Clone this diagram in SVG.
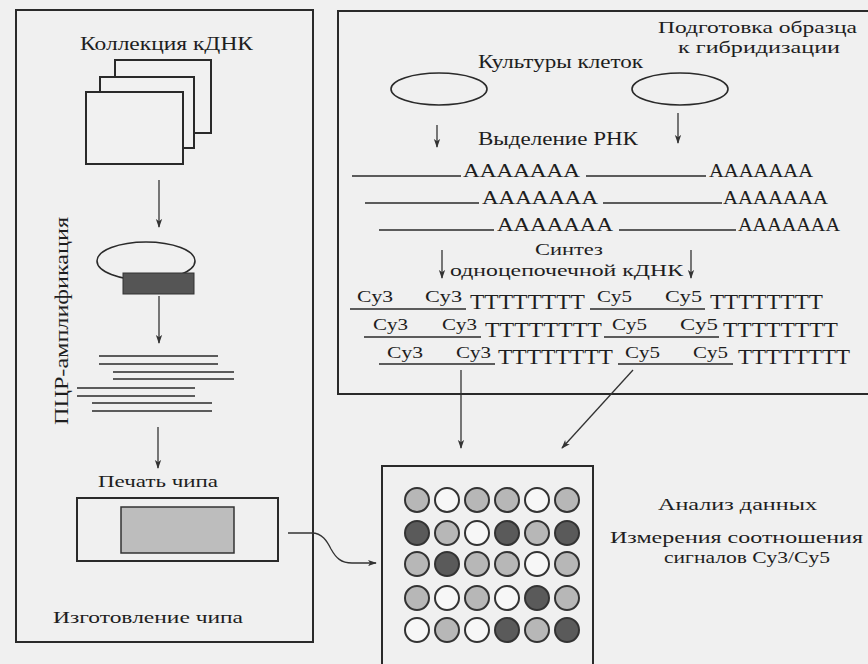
<svg xmlns="http://www.w3.org/2000/svg" width="868" height="664" viewBox="0 0 868 664">
<style>
text{font-family:"Liberation Serif","Times New Roman",serif;fill:#1e1e1e;}
.pn{fill:none;stroke:#2a2a2a;stroke-width:2;}
.sh{fill:#f1f1f1;stroke:#2a2a2a;stroke-width:2;}
.ln{stroke:#2a2a2a;stroke-width:1.6;fill:none;}
.ar{stroke:#333;stroke-width:1.3;fill:none;marker-end:url(#ah);}
.L{fill:#b7b7b7;stroke:#333;stroke-width:2;}
.W{fill:#f7f7f7;stroke:#333;stroke-width:2;}
.D{fill:#5a5a5a;stroke:#333;stroke-width:2;}
.h{font-size:18px;}
.s{font-size:17px;}
.a{font-size:19px;}
.t{font-size:21px;}
.c{font-size:17px;}
</style>
<defs>
<marker id="ah" viewBox="0 0 10 10" refX="9" refY="5" markerWidth="9" markerHeight="9" markerUnits="userSpaceOnUse" orient="auto">
<path d="M0,1.5 L10,5 L0,8.5 L2.5,5 Z" fill="#333"/>
</marker>
</defs>
<rect x="0" y="0" width="868" height="664" fill="#f0f0f0"/>

<g id="panel-chip">
<rect class="pn" x="16" y="10" width="297" height="632"/>
<text class="h" x="80" y="50" textLength="173" lengthAdjust="spacingAndGlyphs">Коллекция кДНК</text>
<text class="h" transform="translate(68,425) rotate(-90)" textLength="208" lengthAdjust="spacingAndGlyphs">ПЦР-амплификация</text>
<text class="s" x="98" y="487" textLength="120" lengthAdjust="spacingAndGlyphs">Печать чипа</text>
<text class="s" x="53" y="623" textLength="190" lengthAdjust="spacingAndGlyphs">Изготовление чипа</text>
</g>

<g id="cdna-collection">
<rect class="sh" x="115" y="60" width="96" height="73"/>
<rect class="sh" x="100" y="77" width="94" height="71"/>
<rect class="sh" x="86" y="92" width="97" height="72"/>
</g>

<g id="plasmid">
<ellipse class="ln" cx="146" cy="261" rx="49" ry="19" stroke-width="1.8"/>
<rect x="123" y="273" width="71" height="21" fill="#555" stroke="#333" stroke-width="1"/>
</g>

<g id="pcr-products">
<g class="ln" stroke-width="2">
<line x1="99" y1="356" x2="218" y2="356"/><line x1="99" y1="364" x2="218" y2="364"/>
<line x1="113" y1="372" x2="234" y2="372"/><line x1="113" y1="379" x2="234" y2="379"/>
<line x1="77" y1="388" x2="195" y2="388"/><line x1="77" y1="396" x2="195" y2="396"/>
<line x1="92" y1="403" x2="212" y2="403"/><line x1="92" y1="411" x2="212" y2="411"/>
</g>
</g>

<g id="chip">
<rect class="pn" x="77" y="498" width="201" height="63"/>
<rect x="121" y="507" width="113" height="46" fill="#bdbdbd" stroke="#333" stroke-width="1.5"/>
</g>

<g id="panel-sample">
<rect class="pn" x="338" y="11" width="540" height="383"/>
<text class="s" x="658" y="33" textLength="199" lengthAdjust="spacingAndGlyphs">Подготовка образца</text>
<text class="s" x="678" y="53" textLength="162" lengthAdjust="spacingAndGlyphs">к гибридизации</text>
<text class="h" x="478" y="68" textLength="165" lengthAdjust="spacingAndGlyphs">Культуры клеток</text>
<text class="h" x="478" y="145" textLength="160" lengthAdjust="spacingAndGlyphs">Выделение РНК</text>
<text class="s" x="535" y="255" textLength="68" lengthAdjust="spacingAndGlyphs">Синтез</text>
<text class="s" x="450" y="276" textLength="233" lengthAdjust="spacingAndGlyphs">одноцепочечной кДНК</text>
</g>

<g id="cell-culture-1"><ellipse class="ln" cx="439" cy="89" rx="48" ry="16" stroke-width="2"/></g>
<g id="cell-culture-2"><ellipse class="ln" cx="680" cy="89" rx="48" ry="16" stroke-width="2"/></g>

<g id="rna">
<line class="ln" x1="352" y1="176" x2="461" y2="176"/>
<text class="a" x="463" y="177" textLength="117" lengthAdjust="spacingAndGlyphs">AAAAAAA</text>
<line class="ln" x1="586" y1="176" x2="706" y2="176"/>
<text class="a" x="709" y="177" textLength="104" lengthAdjust="spacingAndGlyphs">AAAAAAA</text>
<line class="ln" x1="365" y1="203" x2="479" y2="203"/>
<text class="a" x="482" y="204" textLength="116" lengthAdjust="spacingAndGlyphs">AAAAAAA</text>
<line class="ln" x1="603" y1="203" x2="722" y2="203"/>
<text class="a" x="723" y="204" textLength="105" lengthAdjust="spacingAndGlyphs">AAAAAAA</text>
<line class="ln" x1="379" y1="230" x2="494" y2="230"/>
<text class="a" x="497" y="231" textLength="116" lengthAdjust="spacingAndGlyphs">AAAAAAA</text>
<line class="ln" x1="619" y1="230" x2="736" y2="230"/>
<text class="a" x="738" y="231" textLength="102" lengthAdjust="spacingAndGlyphs">AAAAAAA</text>
</g>

<g id="cdna-cy3">
<line class="ln" x1="350" y1="309" x2="466" y2="309"/>
<text class="c" x="357" y="302" textLength="36" lengthAdjust="spacingAndGlyphs">Cy3</text>
<text class="c" x="425" y="302" textLength="37" lengthAdjust="spacingAndGlyphs">Cy3</text>
<text class="t" x="470" y="309" textLength="115" lengthAdjust="spacingAndGlyphs">TTTTTTTT</text>
<line class="ln" x1="364" y1="337" x2="481" y2="337"/>
<text class="c" x="373" y="330" textLength="35" lengthAdjust="spacingAndGlyphs">Cy3</text>
<text class="c" x="442" y="330" textLength="35" lengthAdjust="spacingAndGlyphs">Cy3</text>
<text class="t" x="485" y="337" textLength="117" lengthAdjust="spacingAndGlyphs">TTTTTTTT</text>
<line class="ln" x1="379" y1="364" x2="495" y2="364"/>
<text class="c" x="387" y="358" textLength="36" lengthAdjust="spacingAndGlyphs">Cy3</text>
<text class="c" x="456" y="358" textLength="35" lengthAdjust="spacingAndGlyphs">Cy3</text>
<text class="t" x="498" y="364" textLength="115" lengthAdjust="spacingAndGlyphs">TTTTTTTT</text>
</g>

<g id="cdna-cy5">
<line class="ln" x1="590" y1="309" x2="705" y2="309"/>
<text class="c" x="597" y="302" textLength="35" lengthAdjust="spacingAndGlyphs">Cy5</text>
<text class="c" x="665" y="302" textLength="37" lengthAdjust="spacingAndGlyphs">Cy5</text>
<text class="t" x="710" y="309" textLength="113" lengthAdjust="spacingAndGlyphs">TTTTTTTT</text>
<line class="ln" x1="604" y1="337" x2="719" y2="337"/>
<text class="c" x="612" y="330" textLength="35" lengthAdjust="spacingAndGlyphs">Cy5</text>
<text class="c" x="680" y="330" textLength="38" lengthAdjust="spacingAndGlyphs">Cy5</text>
<text class="t" x="723" y="337" textLength="115" lengthAdjust="spacingAndGlyphs">TTTTTTTT</text>
<line class="ln" x1="618" y1="364" x2="733" y2="364"/>
<text class="c" x="625" y="358" textLength="35" lengthAdjust="spacingAndGlyphs">Cy5</text>
<text class="c" x="693" y="358" textLength="35" lengthAdjust="spacingAndGlyphs">Cy5</text>
<text class="t" x="738" y="364" textLength="112" lengthAdjust="spacingAndGlyphs">TTTTTTTT</text>
</g>

<g id="panel-analysis">
<rect class="pn" x="382" y="466" width="211" height="210"/>
<g>
<circle class="L" cx="417" cy="500" r="12"/><circle class="W" cx="447" cy="500" r="12"/><circle class="L" cx="477" cy="500" r="12"/><circle class="L" cx="507" cy="500" r="12"/><circle class="W" cx="537" cy="500" r="12"/><circle class="L" cx="567" cy="500" r="12"/>
<circle class="D" cx="417" cy="533" r="12"/><circle class="L" cx="447" cy="533" r="12"/><circle class="W" cx="477" cy="533" r="12"/><circle class="D" cx="507" cy="533" r="12"/><circle class="L" cx="537" cy="533" r="12"/><circle class="D" cx="567" cy="533" r="12"/>
<circle class="L" cx="417" cy="564" r="12"/><circle class="D" cx="447" cy="564" r="12"/><circle class="L" cx="477" cy="564" r="12"/><circle class="L" cx="507" cy="564" r="12"/><circle class="W" cx="537" cy="564" r="12"/><circle class="L" cx="567" cy="564" r="12"/>
<circle class="L" cx="417" cy="598" r="12"/><circle class="W" cx="447" cy="598" r="12"/><circle class="L" cx="477" cy="598" r="12"/><circle class="W" cx="507" cy="598" r="12"/><circle class="D" cx="537" cy="598" r="12"/><circle class="L" cx="567" cy="598" r="12"/>
<circle class="W" cx="417" cy="630" r="12"/><circle class="L" cx="447" cy="630" r="12"/><circle class="W" cx="477" cy="630" r="12"/><circle class="D" cx="507" cy="630" r="12"/><circle class="L" cx="537" cy="630" r="12"/><circle class="D" cx="567" cy="630" r="12"/>
</g>
<text class="s" x="658" y="510" textLength="159" lengthAdjust="spacingAndGlyphs">Анализ данных</text>
<text class="s" x="610" y="543" textLength="253" lengthAdjust="spacingAndGlyphs">Измерения соотношения</text>
<text class="s" x="664" y="563" textLength="166" lengthAdjust="spacingAndGlyphs">сигналов Cy3/Cy5</text>
</g>

<g id="connectors">
<line class="ar" x1="159" y1="180" x2="159" y2="227"/>
<line class="ar" x1="159" y1="296" x2="159" y2="343"/>
<line class="ar" x1="158" y1="427" x2="158" y2="468"/>
<line class="ar" x1="437" y1="125" x2="437" y2="147"/>
<line class="ar" x1="678" y1="113" x2="678" y2="143"/>
<line class="ar" x1="442" y1="250" x2="442" y2="278"/>
<line class="ar" x1="691" y1="250" x2="691" y2="278"/>
<line class="ar" x1="461" y1="370" x2="461" y2="448"/>
<line class="ar" x1="633" y1="370" x2="562" y2="448"/>
<path class="ar" d="M288,533 L312,533 C322,533 327,541 331,549 C336,558 341,563 352,563 L376,563"/>
</g>
</svg>
